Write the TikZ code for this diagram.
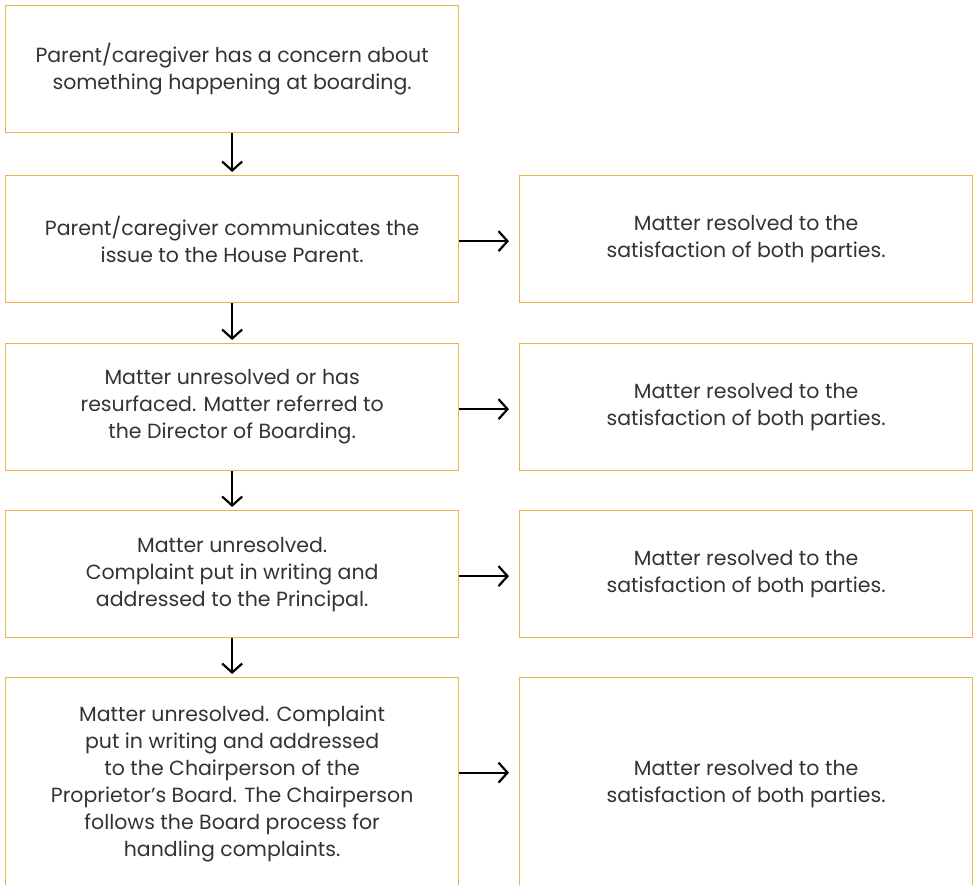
\documentclass[tikz,border=0pt]{standalone}
\usepackage{fontspec}
\setmainfont{Poppins}
\usetikzlibrary{arrows.meta,calc}
\definecolor{boxorange}{HTML}{F0B24E}
\definecolor{txt}{HTML}{333333}
\tikzset{
  box/.style={draw=boxorange, line width=1.3pt, minimum width=453pt, minimum height=127pt,
    inner sep=0pt, anchor=north west, text=txt, align=center,
    font=\fontsize{20.5pt}{27pt}\selectfont},
  flow/.style={-{Straight Barb[length=9pt,width=20pt,line width=2.2pt]}, line width=2.2pt, black},
}
\begin{document}
\begin{tikzpicture}[x=1pt,y=-1pt]
\useasboundingbox (0,0) rectangle (976,884);
\clip (0,0) rectangle (976,884);
\node[box] (b1) at (5,5) {Parent/caregiver has a concern about\\something happening at boarding.};
\node[box] (b2) at (5,175) {Parent/caregiver communicates the\\issue to the House Parent.};
\node[box] (b3) at (5,343) {Matter unresolved or has\\resurfaced. Matter referred to\\the Director of Boarding.};
\node[box] (b4) at (5,510) {Matter unresolved.\\Complaint put in writing and\\addressed to the Principal.};
\node[box, minimum height=212pt] (b5) at (5,677) {Matter unresolved. Complaint\\put in writing and addressed\\to the Chairperson of the\\Proprietor’s Board. The Chairperson\\follows the Board process for\\handling complaints.};
\node[box] (r2) at (519,175) {Matter resolved to the\\satisfaction of both parties.};
\node[box] (r3) at (519,343) {Matter resolved to the\\satisfaction of both parties.};
\node[box] (r4) at (519,510) {Matter resolved to the\\satisfaction of both parties.};
\node[box, minimum height=212pt] (r5) at (519,677) {Matter resolved to the\\satisfaction of both parties.};
\draw[flow, shorten >=3pt] (b1.south) -- (b2.north);
\draw[flow, shorten >=3pt] (b2.south) -- (b3.north);
\draw[flow, shorten >=3pt] (b3.south) -- (b4.north);
\draw[flow, shorten >=3pt] (b4.south) -- (b5.north);
\draw[flow, shorten >=10pt] ([yshift=-2pt]b2.east) -- ([yshift=-2pt]r2.west);
\draw[flow, shorten >=10pt] ([yshift=-2pt]b3.east) -- ([yshift=-2pt]r3.west);
\draw[flow, shorten >=10pt] ([yshift=-2pt]b4.east) -- ([yshift=-2pt]r4.west);
\draw[flow, shorten >=10pt] ([yshift=11pt]b5.east) -- ([yshift=11pt]r5.west);
\end{tikzpicture}
\end{document}
